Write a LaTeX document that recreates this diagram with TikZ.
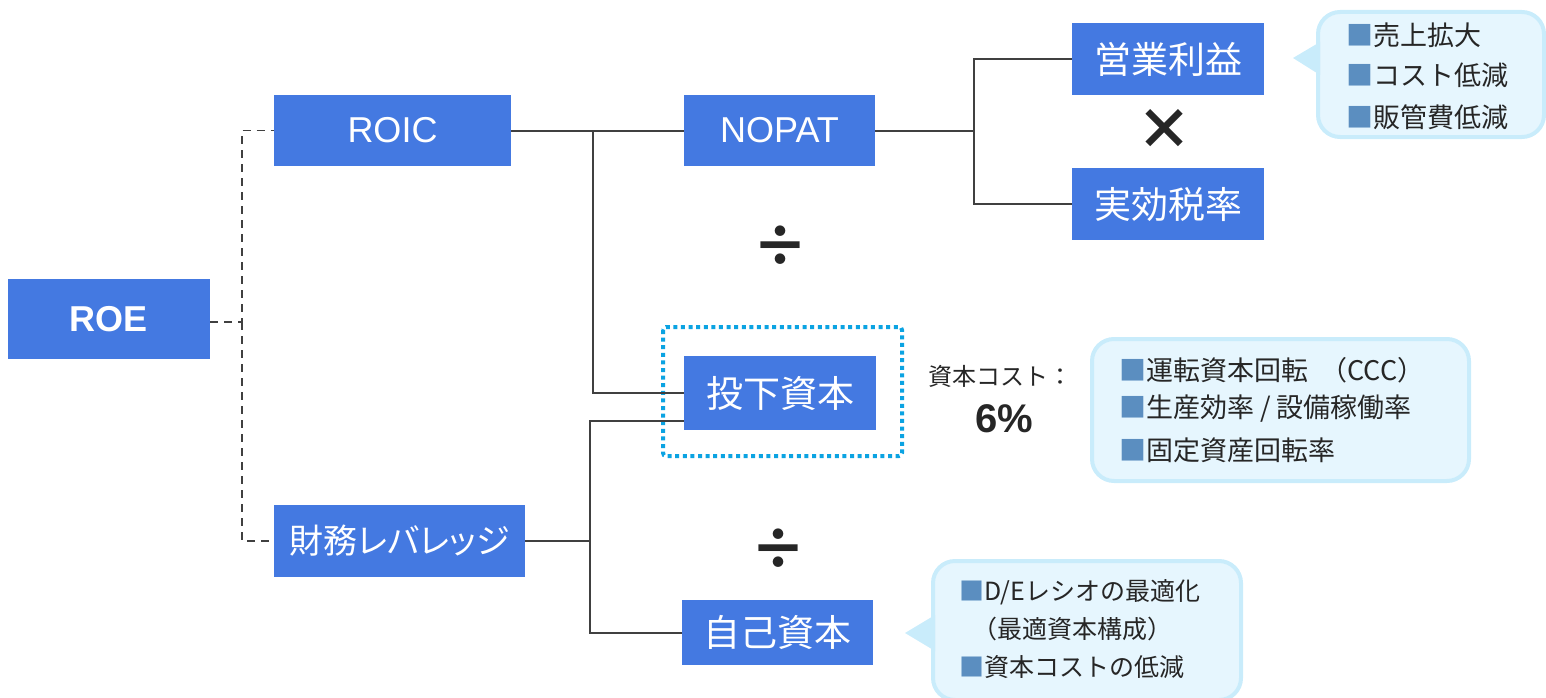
\documentclass[tikz,border=0pt]{standalone}
\usepackage{fontspec}
\setmainfont{Liberation Sans}
\newfontfamily\jp{Noto Sans CJK JP}
\newfontfamily\jpp[RawFeature={+palt}]{Noto Sans CJK JP}
\usetikzlibrary{calc}
\definecolor{boxblue}{HTML}{4479E1}
\definecolor{linegray}{HTML}{404040}
\definecolor{calfill}{HTML}{E6F6FE}
\definecolor{calborder}{HTML}{C9ECFB}
\definecolor{bullet}{HTML}{5B8EC0}
\definecolor{txt}{HTML}{262626}
\definecolor{dotcyan}{HTML}{0BA3E2}
\tikzset{
  bluebox/.style={fill=boxblue, text=white, inner sep=0pt, minimum width=192pt, minimum height=72pt, font=\fontsize{36}{40}\selectfont},
  jpbox/.style={bluebox, font=\jpp\fontsize{37}{40}\selectfont},
  conn/.style={draw=linegray, line width=2pt},
  dconn/.style={draw=linegray, line width=1.8pt, dash pattern=on 8pt off 6pt},
  callout/.style={fill=calfill, draw=calborder, line width=4pt, rounded corners=22pt},
  pointer/.style={fill=calborder, draw=none},
  ctext/.style={anchor=west, inner sep=0pt, text=txt, font=\jp\fontsize{27}{30}\selectfont},
  ctextsm/.style={ctext, font=\jp\fontsize{25}{28}\selectfont},
  opsym/.style={text=txt, inner sep=0pt, font=\jp\bfseries\fontsize{56}{60}\selectfont},
}
\newcommand{\bul}{{\color{bullet}■}}
\begin{document}
\begin{tikzpicture}[x=1pt,y=-1pt]
\useasboundingbox (0,0) rectangle (1546,698);

% callouts
\draw[callout] (1318,12) rectangle (1544,137);
\fill[pointer] (1293,58) -- (1320,42) -- (1320,75) -- cycle;
\draw[callout] (1092,339) rectangle (1469,481);
\draw[callout] (933,561) rectangle (1241,700);
\fill[pointer] (905,633) -- (935,615) -- (935,651) -- cycle;

% nodes
\node[bluebox, minimum width=202pt, minimum height=80pt, font=\bfseries\fontsize{36}{40}\selectfont] (roe) at (109,319) {ROE};
\node[bluebox, minimum width=237pt, minimum height=71pt] (roic) at (392.5,130.5) {ROIC};
\node[jpbox, minimum width=251pt, font=\jpp\fontsize{34}{38}\selectfont] (lev) at (399.5,541) {財務レバレッジ};
\node[bluebox, minimum width=191pt, minimum height=71pt] (nopat) at (779.5,130.5) {NOPAT};
\node[jpbox, minimum height=74pt] (inv) at (780,393) {投下資本};
\node[jpbox, minimum width=191pt, minimum height=65pt] (eq) at (777.5,632.5) {自己資本};
\node[jpbox] (op) at (1168,59) {営業利益};
\node[jpbox] (tax) at (1168,204) {実効税率};

% dotted highlight
\draw[dotcyan, line width=4pt, dash pattern=on 4pt off 3.6pt, rounded corners=3pt] (663,327) rectangle (902,456);

% coordinates
\coordinate (d1) at (242,322);
\coordinate (j1) at (593,130.5);
\coordinate (j2) at (590,541);
\coordinate (j3) at (974,130.5);

% dashed connectors
\draw[dconn] (roe.east |- d1) -- (d1) |- (roic.west);
\draw[dconn] (d1) |- (lev.west);

% solid connectors
\draw[conn] (roic.east) -- (nopat.west);
\draw[conn] (j1) |- (inv.west);
\draw[conn] (lev.east) -- (j2);
\draw[conn] ($(inv.west)+(0,28)$) -| (j2) |- (eq.west);
\draw[conn] (nopat.east) -- (j3);
\draw[conn] (op.west) -| (j3) |- (tax.west);

% operators
\node[opsym] (times) at (1164,129) {×};
\node[opsym] (div1) at (780,246) {÷};
\node[opsym] (div2) at (778,549) {÷};

% cost of capital
\node[text=txt, inner sep=0pt, font=\jp\fontsize{24}{26}\selectfont] (cclabel) at (1000,376) {資本コスト：};
\node[text=txt, inner sep=0pt, font=\bfseries\fontsize{40}{44}\selectfont] (ccval) at (1004,419) {6\%};

% callout texts
\node[ctext] (c1a) at (1346,35) {\bul 売上拡大};
\node[ctext] (c1b) at (1346,75) {\bul コスト低減};
\node[ctext] (c1c) at (1346,117) {\bul 販管費低減};
\node[ctext] (c2a) at (1119,370) {\bul 運転資本回転 \ （CCC）};
\node[ctext] (c2b) at (1119,409) {\bul 生産効率 / 設備稼働率};
\node[ctext] (c2c) at (1119,450) {\bul 固定資産回転率};
\node[ctextsm] (c3a) at (959,592) {\bul D/Eレシオの最適化};
\node[ctextsm] (c3b) at (972,629) {（最適資本構成）};
\node[ctextsm] (c3c) at (959,667) {\bul 資本コストの低減};
\end{tikzpicture}
\end{document}
